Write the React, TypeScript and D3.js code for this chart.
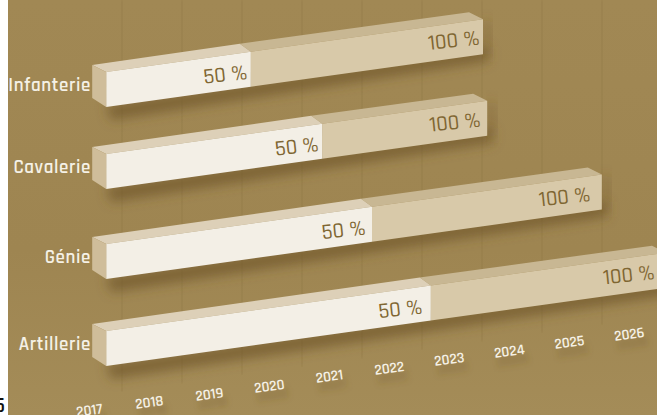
import React from "react";
import * as d3 from "d3";

const categories = ["Infanterie", "Cavalerie", "Génie", "Artillerie"];
const startYear = 2017.27;
const midYears = [2019.68, 2020.87, 2021.7, 2022.68];
const endYears = [2023.55, 2023.62, 2025.53, 2026.6];
const midLabels = ["50 %", "50 %", "50 %", "50 %"];
const endLabels = ["100 %", "100 %", "100 %", "100 %"];
const years = [2017, 2018, 2019, 2020, 2021, 2022, 2023, 2024, 2025, 2026];
const yearLabelY = [410, 402, 394, 386, 376, 368, 359, 351, 342, 334];
const frontTop = [72, 154, 244, 331];
const midInset = [3, 3, 6, 8];
const endInset = [3, 6, 11, 2];

const W = 657, H = 415;
const x = d3.scaleLinear().domain([2017, 2026]).range([90, 630]);
const slope = -0.14, thick = 35, depthX = 14, depthY = 7;
const angle = (Math.atan(slope) * 180) / Math.PI;
const font = "'Rajdhani','Roboto','Inter',sans-serif";

function poly(pts: number[][]) {
  return d3.line()(pts as [number, number][]) + "Z";
}

export default function App() {
  const x0 = x(startYear);
  const edgeY = (i: number, px: number) => frontTop[i] + slope * (px - x0);
  return (
    <svg width={W} height={H} viewBox={`0 0 ${W} ${H}`}
      style={{ position: "absolute", left: 0, top: 0, display: "block" }}>
      <defs>
        <linearGradient id="bg" x1="0" y1="0" x2="0" y2="1">
          <stop offset="0" stopColor="#A18854" />
          <stop offset="0.6" stopColor="#9E8551" />
          <stop offset="1" stopColor="#A48C58" />
        </linearGradient>
        <filter id="sh" x="-10%" y="-60%" width="120%" height="220%">
          <feGaussianBlur stdDeviation="6" />
        </filter>
        <filter id="ts" x="-30%" y="-100%" width="160%" height="400%">
          <feGaussianBlur stdDeviation="3" />
        </filter>
        <filter id="gl" x="-200%" y="0" width="500%" height="100%">
          <feGaussianBlur stdDeviation="1.2" />
        </filter>
        <clipPath id="plot"><rect x={8} y={0} width={W - 8} height={H} /></clipPath>
      </defs>
      <text x={-6} y={412} fontFamily={font} fontSize={22} fontWeight={600} fill="#111">5</text>
      <g clipPath="url(#plot)">
        <rect x={8} y={0} width={W - 8} height={H} fill="url(#bg)" />
        {years.map((yr) => (
          <line key={yr} x1={x(yr) + 32} x2={x(yr) + 32.01} y1={0}
            y2={392 + slope * (x(yr) + 32 - 120)}
            stroke="#8A7140" strokeOpacity={0.3} strokeWidth={3} filter="url(#gl)" />
        ))}
        {categories.map((c, i) => {
          const xm = x(midYears[i]), xe = x(endYears[i]);
          const xl = Math.min(xe, W);
          const mx = xm - midInset[i], ex = xl - endInset[i];
          return (
            <g key={c}>
              <path filter="url(#sh)" fill="#6E5428" fillOpacity={0.7}
                d={poly([
                  [x0, edgeY(i, x0) + thick - 2],
                  [xe + 5, edgeY(i, xe) + thick - 8],
                  [xe + 5, edgeY(i, xe) + thick + 7],
                  [x0 + 5, edgeY(i, x0) + thick + 13],
                ])} />
              <path filter="url(#sh)" fill="#6E5428" fillOpacity={0.35}
                d={poly([
                  [xe, edgeY(i, xe)],
                  [xe + 9, edgeY(i, xe) + 4],
                  [xe + 9, edgeY(i, xe) + thick],
                  [xe, edgeY(i, xe) + thick],
                ])} />
              <path fill="#C8B793" d={poly([
                [xm, edgeY(i, xm)],
                [xe, edgeY(i, xe)],
                [xe - depthX, edgeY(i, xe) - depthY],
                [xm - depthX + 3, edgeY(i, xm) - depthY - 1],
              ])} />
              <path fill="#D8C9A9" d={poly([
                [xm, edgeY(i, xm)],
                [xe, edgeY(i, xe)],
                [xe, edgeY(i, xe) + thick],
                [xm, edgeY(i, xm) + thick],
              ])} />
              <path fill="#DDD0B8" d={poly([
                [x0, edgeY(i, x0)],
                [xm, edgeY(i, xm)],
                [xm - depthX + 3, edgeY(i, xm) - depthY - 1],
                [x0 - depthX, edgeY(i, x0) - depthY],
              ])} />
              <path fill="#F3EFE6" d={poly([
                [x0, edgeY(i, x0)],
                [xm, edgeY(i, xm)],
                [xm, edgeY(i, xm) + thick],
                [x0, edgeY(i, x0) + thick],
              ])} />
              <path fill="#CFBD9A" d={poly([
                [x0, edgeY(i, x0)],
                [x0 - depthX, edgeY(i, x0) - depthY],
                [x0 - depthX, edgeY(i, x0) - depthY + thick - 2],
                [x0, edgeY(i, x0) + thick],
              ])} />
              <text x={91} y={edgeY(i, x0) + 19} textAnchor="end" fontFamily={font}
                fontSize={19} fontWeight={600} letterSpacing={0.6} fill="#F5F1E6">{c}</text>
              <text transform={`translate(${mx},${edgeY(i, mx) + 27}) rotate(${angle + 2})`}
                textAnchor="end" fontFamily={font} fontSize={22} fontWeight={500} fill="#7F6632">{midLabels[i]}</text>
              <text transform={`translate(${ex},${edgeY(i, ex) + 25}) rotate(${angle + 2})`}
                textAnchor="end" fontFamily={font} fontSize={22} fontWeight={500} fill="#7F6632">{endLabels[i]}</text>
            </g>
          );
        })}
        {years.map((yr, i) => (
          <g key={yr} transform={`translate(${x(yr)},${yearLabelY[i] + 5}) rotate(-8)`}>
            <text y={9} x={2} textAnchor="middle" fontFamily={font} fontSize={15} fontWeight={700}
              fill="#6E5428" fillOpacity={0.4} filter="url(#ts)">{yr}</text>
            <text textAnchor="middle" fontFamily={font} fontSize={15} fontWeight={600}
              fill="#F5F1E6">{yr}</text>
          </g>
        ))}
      </g>
    </svg>
  );
}
